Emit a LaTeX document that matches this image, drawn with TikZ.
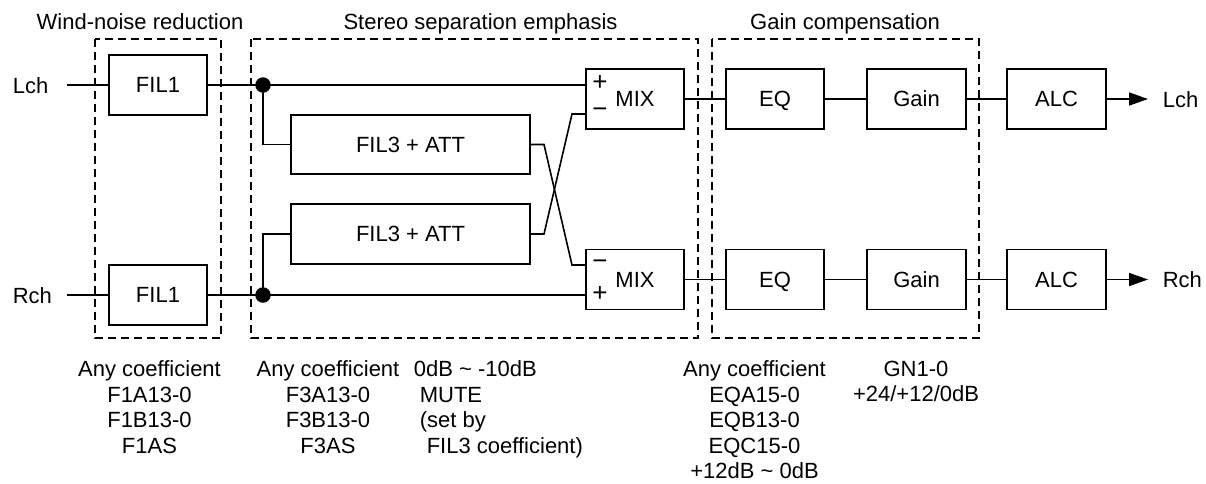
\documentclass[tikz,border=0pt]{standalone}
\usepackage{fontspec}
\setmainfont{Liberation Sans}
\usetikzlibrary{arrows.meta}
\begin{document}
\begin{tikzpicture}[x=1pt,y=-1pt,
  font=\fontsize{22}{25.5}\selectfont,
  line width=1.6pt,
  blk/.style={draw, line width=1.6pt, minimum height=60pt, inner sep=0pt, text height=15.75pt, text depth=0pt},
  grp/.style={draw, line width=2pt, dash pattern=on 8pt off 5pt},
  dot/.style={circle, fill, inner sep=0pt, minimum size=15.5pt},
  lbl/.style={inner sep=0pt, anchor=base west},
  ttl/.style={inner sep=0pt, anchor=base},
  note/.style={inner sep=0pt, anchor=north, align=center},
  notel/.style={inner sep=0pt, anchor=north west, align=left},
  sgn/.style={inner sep=0pt, font=\fontsize{26}{26}\selectfont},
  outarr/.style={-{Triangle[length=19pt,width=13pt]}}]
\useasboundingbox (0,0) rectangle (1206,483);

% group boxes
\draw[grp] (95,39) rectangle (221,338);
\draw[grp] (251,39) rectangle (698,338);
\draw[grp] (712,39) rectangle (979,338);

% titles
\node[ttl] (t1) at (140,29) {Wind-noise reduction};
\node[ttl] (t2) at (480.5,29) {Stereo separation emphasis};
\node[ttl] (t3) at (845,29) {Gain compensation};

% input labels
\node[lbl] (lin) at (12,93) {Lch};
\node[lbl] (rin) at (12,303) {Rch};
\coordinate (lst) at (67,85);
\coordinate (rst) at (67,295);

% blocks
\node[blk, minimum width=98pt] (fil1a) at (158,85) {FIL1};
\node[blk, minimum width=98pt] (fil1b) at (158,295) {FIL1};
\node[blk, minimum width=239pt, minimum height=59pt] (fil3a) at (410.5,144.5) {FIL3 + ATT};
\node[blk, minimum width=239pt] (fil3b) at (410.5,234) {FIL3 + ATT};
\node[blk, minimum width=98pt] (mixa) at (635,99) {MIX};
\node[blk, minimum width=98pt] (mixb) at (635,279.5) {MIX};
\node[blk, minimum width=98pt] (eqa) at (775,99) {EQ};
\node[blk, minimum width=98pt] (eqb) at (775,279.5) {EQ};
\node[blk, minimum width=99pt] (gaina) at (916.5,99) {Gain};
\node[blk, minimum width=99pt] (gainb) at (916.5,279.5) {Gain};
\node[blk, minimum width=99pt] (alca) at (1056.5,99) {ALC};
\node[blk, minimum width=99pt] (alcb) at (1056.5,279.5) {ALC};

% signs on MIX inputs
\node[sgn] (pa) at (600,83) {+};
\node[sgn] (ma) at (600,113) {\char"2212};
\node[sgn] (mb) at (600,265) {\char"2212};
\node[sgn] (pb) at (600,294) {+};

% junction dots
\node[dot] (ja) at (263,85) {};
\node[dot] (jb) at (263,295) {};

% outputs
\coordinate (oa) at (1148,99);
\coordinate (ob) at (1148,279.5);
\node[lbl] (lout) at (1162,107) {Lch};
\node[lbl] (rout) at (1162,287.5) {Rch};

% connectors
\draw (lst) -- (fil1a.west);
\draw (rst) -- (fil1b.west);
\draw (fil1a.east) -- (ja.center) -- (ja.center -| mixa.west);
\draw (fil1b.east) -- (jb.center) -- (jb.center -| mixb.west);
\draw (ja.center) |- (fil3a.west);
\draw (jb.center) |- (fil3b.west);
\draw (fil3a.east) -- (544,144.5) -- (572,265) -- (mixb.west |- 0,265);
\draw (fil3b.east) -- (544,234) -- (572,114) -- (mixa.west |- 0,114);
\draw (mixa.east) -- (eqa.west);
\draw (mixb.east) -- (eqb.west);
\draw (eqa.east) -- (gaina.west);
\draw (eqb.east) -- (gainb.west);
\draw (gaina.east) -- (alca.west);
\draw (gainb.east) -- (alcb.west);
\draw[outarr] (alca.east) -- (oa);
\draw[outarr] (alcb.east) -- (ob);

% notes
\node[note] (n1) at (149.5,360) {Any coefficient\\F1A13-0\\F1B13-0\\F1AS};
\node[note] (n2) at (328,360) {Any coefficient\\F3A13-0\\F3B13-0\\F3AS};
\node[notel] (n3) at (413,360) {0dB \char"007E{} -10dB\\\hspace{6pt}MUTE\\\hspace{6pt}(set by\\\hspace{13pt}FIL3 coefficient)};
\node[note] (n4) at (754.5,360) {Any coefficient\\EQA15-0\\EQB13-0\\EQC15-0\\+12dB \char"007E{} 0dB};
\node[note] (n5) at (916,360) {GN1-0\\+24/+12/0dB};
\end{tikzpicture}
\end{document}
